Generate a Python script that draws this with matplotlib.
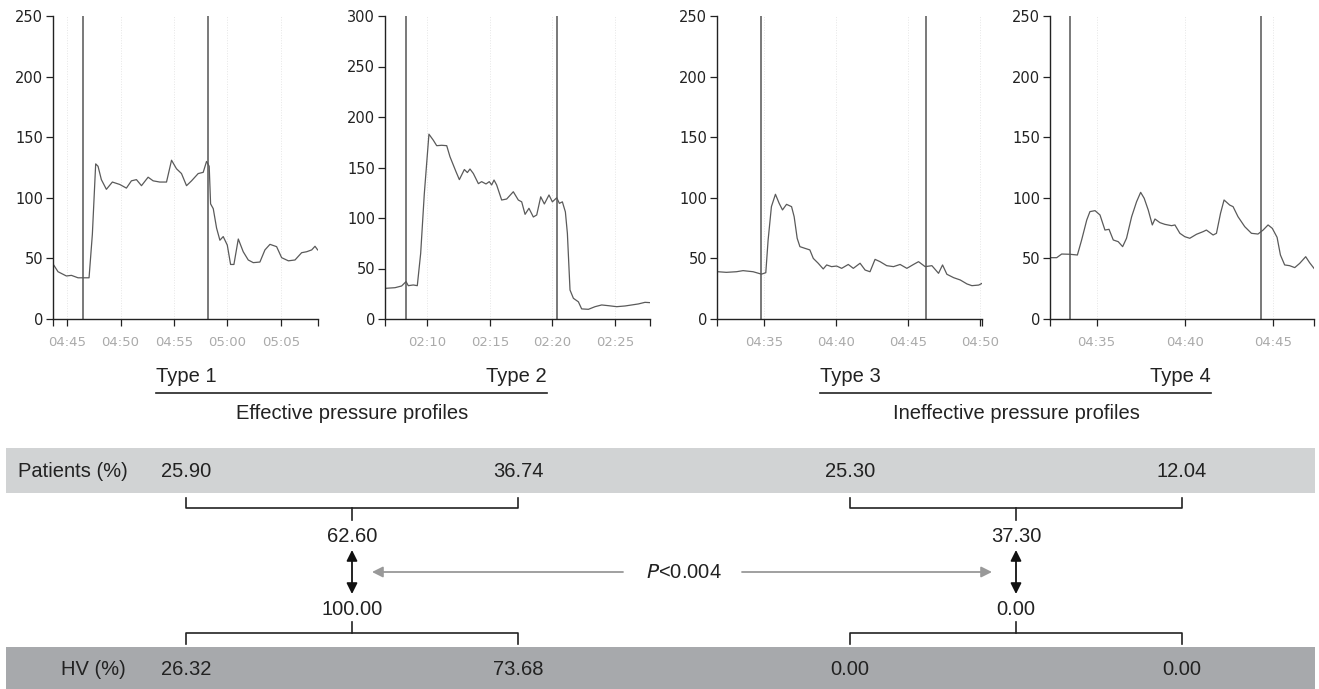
import matplotlib
matplotlib.use("Agg")
import matplotlib.pyplot as plt
from matplotlib.patches import Rectangle
from matplotlib.ticker import FuncFormatter

plt.rcParams["font.family"] = ["Liberation Sans", "DejaVu Sans"]

# pressure traces, time in minutes past the hour
t1 = [43.75, 44.16, 44.94, 45.41, 46.03, 46.50, 47.06, 47.37, 47.68, 47.90, 48.21, 48.68,
      49.24, 49.93, 50.55, 51.02, 51.49, 51.96, 52.58, 53.05, 53.67, 54.30, 54.77, 55.23,
      55.70, 56.17, 56.64, 57.26, 57.73, 58.04, 58.29, 58.42, 58.67, 58.98, 59.29, 59.60,
      59.98, 60.29, 60.60, 61.01, 61.47, 61.94, 62.41, 63.03, 63.50, 63.97, 64.59, 65.06,
      65.69, 66.31, 66.93, 67.40, 67.87, 68.18, 68.43]
p1 = [44.6, 39, 35.5, 36, 34, 34, 34, 70, 128, 126, 115, 107,
      113, 111, 108, 114, 115, 110, 117, 114, 113, 113, 131, 124,
      120, 110, 114, 120, 121, 130, 126, 95, 91, 75, 65, 68,
      61, 45, 45, 66, 55.5, 48.7, 46.5, 47, 57, 61.6, 59.7, 50.6,
      48, 48.7, 54.7, 55.5, 57, 60, 57]

t2 = [6.70, 7.42, 7.95, 8.30, 8.48, 8.88, 9.20, 9.47, 9.76, 10.13, 10.48, 10.75,
      11.15, 11.55, 11.81, 12.29, 12.56, 12.96, 13.20, 13.41, 13.68, 14.08, 14.34, 14.69,
      14.95, 15.14, 15.33, 15.54, 15.94, 16.34, 16.87, 17.27, 17.54, 17.81, 18.12, 18.47,
      18.74, 19.06, 19.35, 19.72, 19.99, 20.34, 20.55, 20.79, 21.03, 21.19, 21.40, 21.67,
      22.07, 22.33, 22.87, 23.40, 23.93, 24.46, 25.13, 25.80, 26.33, 26.86, 27.39, 27.79]
p2 = [30.4, 31, 32.7, 37, 33, 33.7, 33, 65, 124, 183, 177, 171.6,
      172, 171.6, 160.7, 145.9, 138, 148, 145, 148.5, 144, 134, 136, 133.7,
      136, 132.7, 137.6, 132.7, 117.8, 118.8, 126, 117.8, 116, 103.6, 109.6, 101,
      103, 121, 113.9, 122.8, 116, 120, 114.5, 116, 106, 84.8, 28.7, 20.5,
      17, 10, 9.6, 12.2, 13.9, 13.2, 12.2, 12.9, 13.9, 14.9, 16.5, 16.2]

t3 = [31.82, 32.40, 33.10, 33.56, 34.26, 34.84, 35.14, 35.30, 35.53, 35.81, 36.07, 36.30,
      36.58, 36.93, 37.11, 37.32, 37.51, 37.86, 38.20, 38.44, 38.78, 39.13, 39.37, 39.71,
      40.06, 40.41, 40.87, 41.22, 41.69, 42.04, 42.38, 42.73, 43.08, 43.54, 44.01, 44.47,
      44.94, 45.40, 45.75, 46.21, 46.68, 47.14, 47.42, 47.72, 48.19, 48.65, 49.12, 49.46,
      49.93, 50.16]
p3 = [39, 38.5, 39, 39.9, 39, 37, 38.2, 65, 92.7, 102.9, 95.4, 90,
      94.6, 92.7, 84.4, 66.6, 59.7, 58.3, 57, 50, 46, 41.3, 44.6, 43.2,
      43.7, 41.8, 45, 41.8, 46, 40.4, 39, 49.2, 47.3, 44, 43.2, 45,
      41.8, 45, 47.3, 43.2, 44, 37.7, 44.6, 36.9, 34.1, 32.2, 28.9, 27.5,
      28, 29.4]

t4 = [32.40, 32.74, 33.02, 33.49, 33.91, 34.15, 34.44, 34.62, 34.91, 35.19, 35.47, 35.70,
      35.94, 36.22, 36.47, 36.69, 36.98, 37.26, 37.49, 37.69, 37.92, 38.15, 38.30, 38.58,
      38.86, 39.24, 39.43, 39.71, 39.99, 40.27, 40.65, 41.03, 41.21, 41.59, 41.78, 42.01,
      42.21, 42.53, 42.72, 43.00, 43.38, 43.76, 44.13, 44.42, 44.70, 44.94, 45.21, 45.40,
      45.64, 45.92, 46.21, 46.49, 46.83, 47.05, 47.30]
p4 = [50.6, 50.6, 53.6, 53.4, 52.8, 65.2, 81.7, 88.6, 89.4, 85.8, 73.4, 74,
      65.2, 63.8, 59.7, 66.6, 84.4, 96.8, 104.5, 99.6, 89.9, 77.6, 82.5, 79.5,
      78.1, 77, 77.6, 70.7, 67.9, 66.6, 69.9, 72.1, 73.4, 69.3, 70.7, 87.2,
      98.2, 94, 92.7, 84.4, 76.2, 70.7, 70.1, 73.4, 77.6, 74.8, 67.4, 52.8,
      44.6, 44, 42.4, 45.9, 51.4, 46.5, 41.8]

# event markers (vertical lines)
marks1 = [46.50, 58.20]
marks2 = [8.27, 20.34]
marks3 = [34.79, 46.26]
marks4 = [33.51, 44.32]

hours = [4, 2, 4, 4]
ymax = [250, 300, 250, 250]
xticks = [[45, 50, 55, 60, 65], [10, 15, 20, 25], [35, 40, 45, 50], [35, 40, 45]]
xlims = [(43.69, 68.46), (6.62, 27.79), (31.75, 50.16), (32.36, 47.30)]

# table
types = ["Type 1", "Type 2", "Type 3", "Type 4"]
groups = ["Effective pressure profiles", "Ineffective pressure profiles"]
patients = ["25.90", "36.74", "25.30", "12.04"]
hv = ["26.32", "73.68", "0.00", "0.00"]
patients_group = ["62.60", "37.30"]
hv_group = ["100.00", "0.00"]
p_text = "$\\it{P}$<0.004"

W, H = 1319, 689
fig = plt.figure(figsize=(W / 100, H / 100), dpi=100)

ink = "#222222"
fs = 14.5

# lower part: table drawn in pixel layout
tab = fig.add_axes([0, 0, 1, 1])
tab.set_xlim(0, W)
tab.set_ylim(H, 0)
tab.axis("off")

col_x = [186, 518, 850, 1182]
tab.add_patch(Rectangle((6, 448), 1309, 45, color="#d1d3d4", lw=0))
tab.add_patch(Rectangle((6, 647), 1309, 42, color="#a7a9ac", lw=0))
tab.text(18, 477, "Patients (%)", ha="left", va="baseline", fontsize=fs, color=ink)
tab.text(126, 675, "HV (%)", ha="right", va="baseline", fontsize=fs, color=ink)

for i in range(4):
    tab.text(col_x[i], 477, patients[i], ha="center", va="baseline", fontsize=fs, color=ink)
    tab.text(col_x[i], 675, hv[i], ha="center", va="baseline", fontsize=fs, color=ink)

centers = []
for g in range(2):
    xa, xb = col_x[2 * g], col_x[2 * g + 1]
    xc = (xa + xb) / 2
    centers.append(xc)
    x0, x1 = xa - 30, xb + 29
    tab.text(x0, 382, types[2 * g], ha="left", va="baseline", fontsize=fs, color=ink)
    tab.text(x1, 382, types[2 * g + 1], ha="right", va="baseline", fontsize=fs, color=ink)
    tab.plot([x0, x1], [393, 393], color=ink, lw=1.2)
    tab.text(xc, 419, groups[g], ha="center", va="baseline", fontsize=fs, color=ink)

    # upper bracket
    tab.plot([xa, xa, xb, xb], [498, 508, 508, 498], color=ink, lw=1.2)
    tab.plot([xc, xc], [508, 520], color=ink, lw=1.2)
    tab.text(xc, 542, patients_group[g], ha="center", va="baseline", fontsize=fs, color=ink)
    tab.annotate("", xy=(xc, 550), xytext=(xc, 594),
                 arrowprops=dict(arrowstyle="<|-|>", color="#111111", lw=1.3,
                                 mutation_scale=16, shrinkA=0, shrinkB=0))
    tab.text(xc, 615, hv_group[g], ha="center", va="baseline", fontsize=fs, color=ink)
    # lower bracket
    tab.plot([xc, xc], [622, 633], color=ink, lw=1.2)
    tab.plot([xa, xa, xb, xb], [644, 633, 633, 644], color=ink, lw=1.2)

pc = (centers[0] + centers[1]) / 2
tab.text(pc, 578, p_text, ha="center", va="baseline", fontsize=fs, color=ink)
gray = "#999999"
tab.annotate("", xy=(centers[0] + 20, 572), xytext=(pc - 61, 572),
             arrowprops=dict(arrowstyle="-|>", color=gray, lw=1.3, mutation_scale=16,
                             shrinkA=0, shrinkB=0))
tab.annotate("", xy=(centers[1] - 24, 572), xytext=(pc + 58, 572),
             arrowprops=dict(arrowstyle="-|>", color=gray, lw=1.3, mutation_scale=16,
                             shrinkA=0, shrinkB=0))

# pressure panels
lefts = [53, 385, 717, 1050]
rights = [318, 650, 982, 1314]
top, bottom = 16, 319
traces = [(t1, p1), (t2, p2), (t3, p3), (t4, p4)]
marks = [marks1, marks2, marks3, marks4]

for k in range(4):
    ax = fig.add_axes([lefts[k] / W, (H - bottom) / H,
                       (rights[k] - lefts[k]) / W, (bottom - top) / H])
    ax.patch.set_alpha(0)
    t, p = traces[k]
    ax.plot(t, p, color="#5a5a5a", lw=0.9)
    for m in marks[k]:
        ax.axvline(m, color="#555555", lw=1.1)
    ax.set_xlim(*xlims[k])
    ax.set_ylim(0, ymax[k])
    ax.set_yticks(range(0, ymax[k] + 1, 50))
    ax.set_xticks(xticks[k])
    ax.set_xticks(list(xlims[k]), minor=True)
    h = hours[k]
    ax.xaxis.set_major_formatter(FuncFormatter(
        lambda v, pos, h=h: f"{h + int(round(v)) // 60:02d}:{int(round(v)) % 60:02d}"))
    ax.grid(axis="x", linestyle=":", color="#e6e6e6", lw=0.7)
    for s in ["top", "right"]:
        ax.spines[s].set_visible(False)
    for s in ["left", "bottom"]:
        ax.spines[s].set_color(ink)
        ax.spines[s].set_linewidth(1.0)
    ax.tick_params(axis="both", which="both", direction="out", length=5, width=0.9, color=ink)
    ax.tick_params(axis="x", which="both", labelcolor="#aaaaaa", pad=7, labelsize=9.5)
    ax.tick_params(axis="y", labelcolor=ink, pad=2, labelsize=10.5)
    for lab in ax.get_xticklabels() + ax.get_yticklabels():
        lab.set_family("DejaVu Sans")

fig.savefig("out.png", dpi=100)
